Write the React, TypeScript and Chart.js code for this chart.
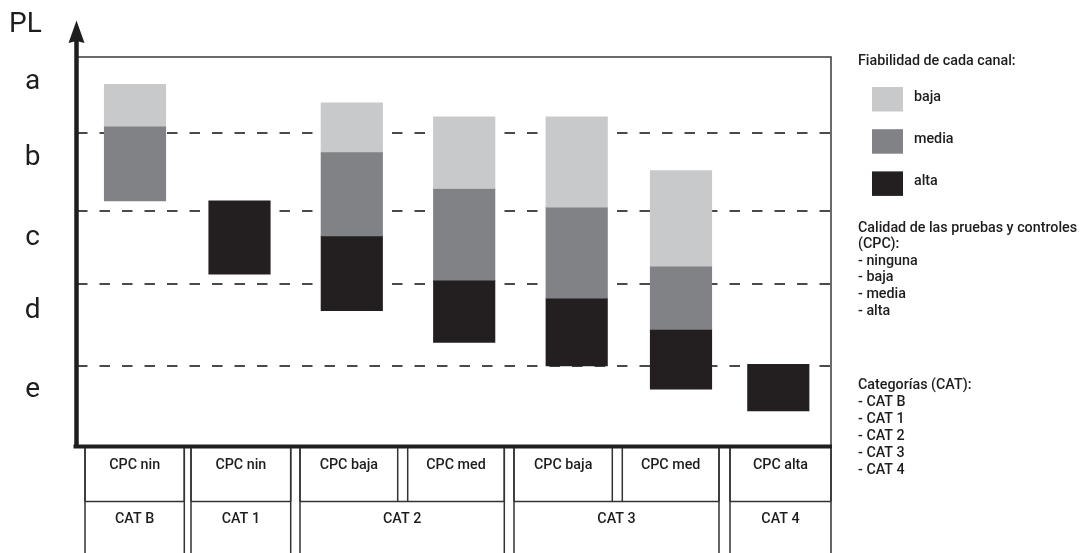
import React, { useEffect, useRef } from 'react';
import { Chart, registerables } from 'chart.js';

Chart.register(...registerables);

// ---- data ----
const barPositions = [0.585, 1.63, 2.753, 3.877, 5.002, 6.045, 7.018];
const lowReliability: (number[] | null)[] = [[4.11, 4.65], null, [3.78, 4.41], [3.31, 4.23], [3.07, 4.23], [2.31, 3.54], null];
const midReliability: (number[] | null)[] = [[3.15, 4.11], null, [2.70, 3.78], [2.13, 3.31], [1.90, 3.07], [1.50, 2.31], null];
const highReliability: (number[] | null)[] = [null, [2.21, 3.15], [1.74, 2.70], [1.33, 2.13], [1.03, 1.90], [0.73, 1.50], [0.45, 1.05]];
const seriesLabels = ['baja', 'media', 'alta'];
const seriesColors = ['#c8c9cb', '#808285', '#231f20'];
const levelLabels = ['e', 'd', 'c', 'b', 'a'];
const levelPositions = [0.72, 1.735, 2.67, 3.70, 4.685];
const levelBoundaries = [1.03, 2.08, 3.02, 4.02];
const cpcLabels = ['CPC nin', 'CPC nin', 'CPC baja', 'CPC med', 'CPC baja', 'CPC med', 'CPC alta'];
const catLabels = ['CAT B', 'CAT 1', 'CAT 2', 'CAT 3', 'CAT 4'];
const catSpans = [1, 1, 2, 2, 1];
const cpcLevels = ['ninguna', 'baja', 'media', 'alta'];
const legendTitle = 'Fiabilidad de cada canal:';
const cpcTitle = ['Calidad de las pruebas y controles', '(CPC):'];
const catTitle = 'Categorías (CAT):';
const axisTitle = 'PL';

// ---- layout (pixels) ----
const upperCells = [[85, 184.3], [191, 290.7], [300, 397.7], [407.7, 504.3], [514, 612.3], [622.3, 719], [730, 831]];
const TEXT = '#1f1c1d';
const LINE = '#333333';
const FONT = 'Roboto';
const SMALL_FONT = `500 14.3px ${FONT}`;

const toPoints = (arr: (number[] | null)[]) =>
  barPositions.map((x, i) => (arr[i] ? { x, y: arr[i] } : null)).filter(Boolean) as any[];

const decorPlugin = {
  id: 'decor',
  afterDraw(chart: any) {
    const { ctx, chartArea: a } = chart;
    ctx.save();
    // frame top/right
    ctx.strokeStyle = '#3a3a3a';
    ctx.lineWidth = 1.5;
    ctx.beginPath();
    ctx.moveTo(a.left, a.top);
    ctx.lineTo(a.right, a.top);
    ctx.lineTo(a.right, a.bottom);
    ctx.stroke();
    // bottom thick axis
    ctx.strokeStyle = '#1e1e1e';
    ctx.lineWidth = 4;
    ctx.beginPath();
    ctx.moveTo(a.left - 3, a.bottom + 0.5);
    ctx.lineTo(a.right + 1, a.bottom + 0.5);
    ctx.stroke();
    // y axis with arrow
    ctx.lineWidth = 4.5;
    ctx.beginPath();
    ctx.moveTo(a.left, a.bottom + 2);
    ctx.lineTo(a.left, 40);
    ctx.stroke();
    ctx.fillStyle = '#1e1e1e';
    ctx.beginPath();
    ctx.moveTo(a.left, 20.5);
    ctx.lineTo(a.left + 8, 43);
    ctx.lineTo(a.left, 41);
    ctx.lineTo(a.left - 8, 43);
    ctx.closePath();
    ctx.fill();
    // axis title
    ctx.fillStyle = TEXT;
    ctx.font = `28px ${FONT}`;
    ctx.textAlign = 'left';
    ctx.textBaseline = 'alphabetic';
    ctx.fillText(axisTitle, 9, 32);

    // table
    const top = a.bottom + 2;
    const mid = 501.5;
    const bottom = 560;
    ctx.strokeStyle = LINE;
    ctx.lineWidth = 1.5;
    let idx = 0;
    const lowerCells: number[][] = [];
    catSpans.forEach((span) => {
      lowerCells.push([upperCells[idx][0], upperCells[idx + span - 1][1]]);
      idx += span;
    });
    lowerCells.forEach(([l, r]) => {
      ctx.beginPath();
      ctx.moveTo(l, top); ctx.lineTo(l, bottom);
      ctx.moveTo(r, top); ctx.lineTo(r, bottom);
      ctx.moveTo(l, mid); ctx.lineTo(r, mid);
      ctx.stroke();
    });
    upperCells.forEach(([l, r]) => {
      ctx.beginPath();
      ctx.moveTo(l, top); ctx.lineTo(l, mid);
      ctx.moveTo(r, top); ctx.lineTo(r, mid);
      ctx.stroke();
    });
    ctx.fillStyle = TEXT;
    ctx.font = SMALL_FONT;
    ctx.textAlign = 'center';
    ctx.textBaseline = 'middle';
    upperCells.forEach(([l, r], i) => ctx.fillText(cpcLabels[i], (l + r) / 2, 465));
    lowerCells.forEach(([l, r], i) => ctx.fillText(catLabels[i], (l + r) / 2, 519));

    // right panel
    const x0 = 858;
    ctx.textAlign = 'left';
    ctx.fillText(legendTitle, x0, 61);
    chart.data.datasets.forEach((ds: any, i: number) => {
      const y = 87 + i * 42.2;
      ctx.fillStyle = ds.backgroundColor;
      ctx.fillRect(872, y, 31, 24.5);
      ctx.fillStyle = TEXT;
      ctx.fillText(ds.label, 914, y + 10);
    });
    const lh = 16.6;
    const cpcLines = [...cpcTitle, ...cpcLevels.map((s) => '- ' + s)];
    cpcLines.forEach((s, i) => ctx.fillText(s, x0, 228 + i * lh));
    const catLines = [catTitle, ...catLabels.map((s) => '- ' + s)];
    catLines.forEach((s, i) => ctx.fillText(s, x0, 385 + i * 17));
    ctx.restore();
  },
};

export default function App() {
  const ref = useRef<HTMLCanvasElement>(null);
  useEffect(() => {
    const canvas = ref.current!;
    const chart = new Chart(canvas, {
      type: 'bar',
      data: {
        datasets: [lowReliability, midReliability, highReliability].map((arr, i) => ({
          label: seriesLabels[i],
          data: toPoints(arr),
          backgroundColor: seriesColors[i],
          borderWidth: 0,
          borderSkipped: false,
          grouped: false,
          barThickness: 61.5,
          maxBarThickness: 61.5,
        })),
      },
      options: {
        responsive: false,
        animation: false,
        devicePixelRatio: 1,
        layout: { padding: { left: 0, top: 57, right: 254, bottom: 107 } },
        plugins: { legend: { display: false }, tooltip: { enabled: false } },
        scales: {
          x: { type: 'linear', min: 0, max: 7.545, offset: false, display: false },
          y: {
            type: 'linear',
            position: 'left',
            min: 0,
            max: 5,
            grid: { display: false, drawTicks: false },
            border: { display: false },
            afterFit: (s: any) => { s.width = 76.5; },
            afterBuildTicks: (s: any) => { s.ticks = levelPositions.map((v) => ({ value: v })); },
            ticks: {
              autoSkip: false,
              crossAlign: 'center',
              padding: 36,
              color: TEXT,
              font: { family: FONT, size: 28 },
              callback: (_v: any, i: number) => levelLabels[i],
            },
          },
          yGrid: {
            type: 'linear',
            position: 'left',
            min: 0,
            max: 5,
            afterFit: (s: any) => { s.width = 0; },
            afterBuildTicks: (s: any) => { s.ticks = levelBoundaries.map((v) => ({ value: v })); },
            ticks: { display: false },
            grid: { color: '#4a4a4a', lineWidth: 2, drawTicks: false },
            border: { display: false, dash: [10.5, 12] },
          },
        },
      } as any,
      plugins: [decorPlugin],
    });
    return () => chart.destroy();
  }, []);
  return (
    <div style={{ position: 'absolute', left: 0, top: 0, width: 1085, height: 553, background: '#fff' }}>
      <canvas ref={ref} width={1085} height={553} style={{ display: 'block', width: 1085, height: 553 }} />
    </div>
  );
}
